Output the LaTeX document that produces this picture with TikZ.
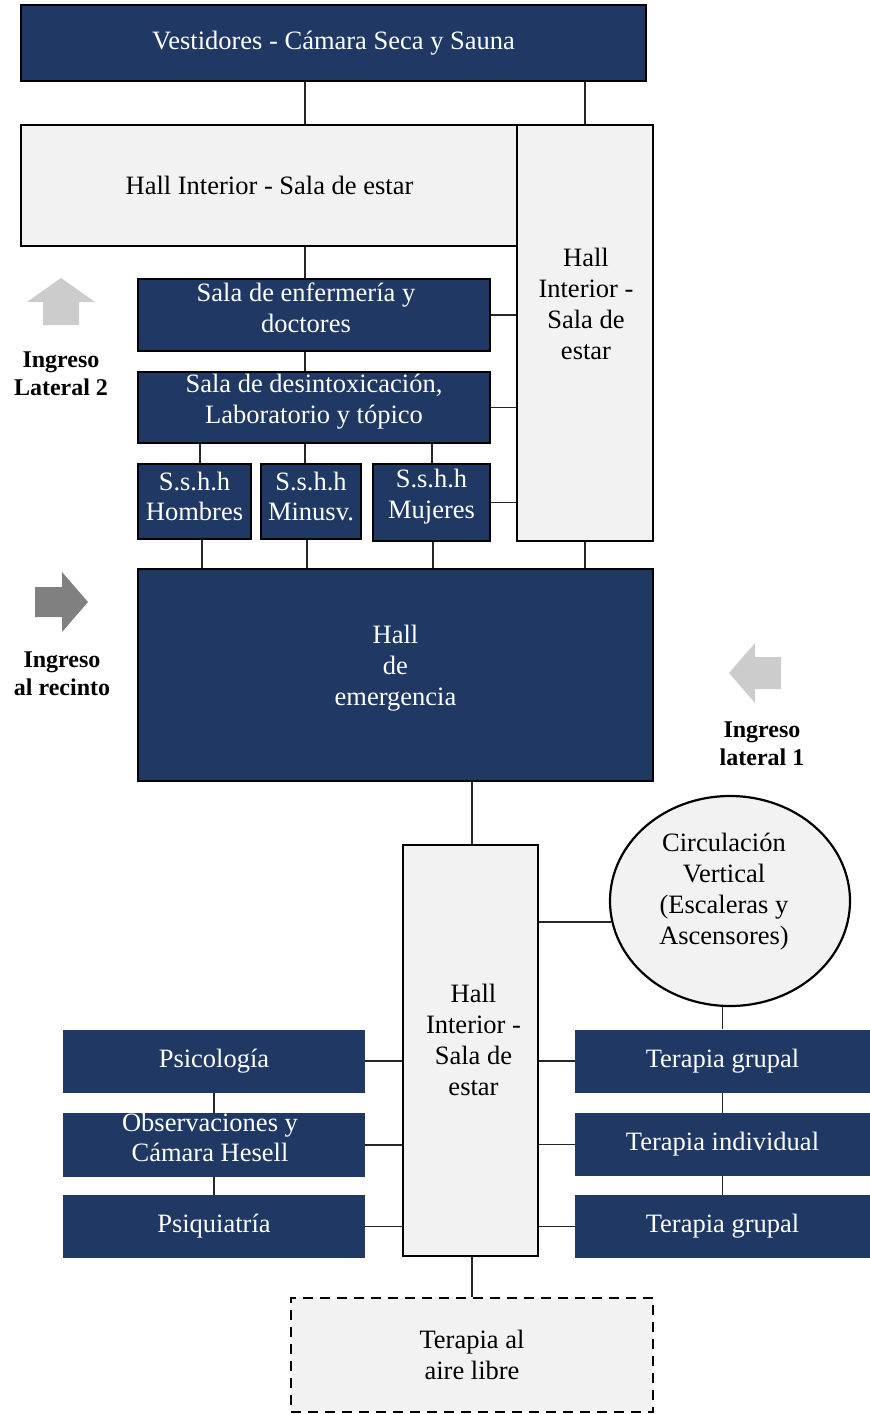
\documentclass[tikz,border=0pt]{standalone}
\usepackage{fontspec}
\setmainfont{Liberation Serif}
\usepackage{xcolor}
\usetikzlibrary{shapes.geometric,positioning}
\definecolor{navy}{HTML}{203864}
\definecolor{paleg}{HTML}{F2F2F2}
\definecolor{arrowl}{HTML}{CCCCCC}
\definecolor{arrowd}{HTML}{808080}

\begin{document}
\begin{tikzpicture}[x=1pt,y=-1pt,
  txt/.style={align=center,inner sep=0pt,font=\fontsize{26.5}{30.8}\selectfont},
  navyroom/.style={txt,fill=navy,text=white,draw=black,line width=2.2pt},
  flatroom/.style={txt,fill=navy,text=white},
  hallroom/.style={txt,fill=paleg,draw=black,line width=2.2pt},
  link/.style={draw=black!85,line width=1.2pt},
  entry/.style={align=center,inner sep=0pt,font=\fontsize{24}{27.6}\selectfont\bfseries}]
  \useasboundingbox (0,0) rectangle (870,1414);

  % upper block
  \node[navyroom,minimum width=625pt,minimum height=76pt] (vest) at (333.5,43)
    {Vestidores - Cámara Seca y Sauna};
  \node[hallroom,minimum width=497pt,minimum height=121pt] (hallA) at (269.5,185.5)
    {Hall Interior - Sala de estar};
  \node[hallroom,minimum width=136pt,minimum height=416pt] (hallB) at (585,333) {};
  \node[txt] (hallB-t) at (hallB.center) [xshift=1pt,yshift=29pt]
    {Hall\\Interior -\\Sala de\\estar};

  \node[navyroom,minimum width=352pt,minimum height=72pt] (enf) at (314,315) {};
  \node[txt,text=white] (enf-t) at (enf.center) [xshift=-8pt,yshift=7pt]
    {Sala de enfermería y\\doctores};
  \node[navyroom,minimum width=352pt,minimum height=71pt] (desi) at (314,407.5) {};
  \node[txt,text=white] (desi-t) at (desi.center) [yshift=6pt]
    {Sala de desintoxicación,\\Laboratorio y tópico};

  \node[navyroom,minimum width=113pt,minimum height=75pt] (hom) at (194.5,501.5) {};
  \node[txt,text=white] (hom-t) at (hom.center) [yshift=5pt] {S.s.h.h\\Hombres};
  \node[navyroom,minimum width=100pt,minimum height=75pt] (minu) at (311,501.5) {};
  \node[txt,text=white] (minu-t) at (minu.center) [yshift=5pt] {S.s.h.h\\Minusv.};
  \node[navyroom,minimum width=117pt,minimum height=77pt] (muj) at (431.5,502.5) {};
  \node[txt,text=white] (muj-t) at (muj.center) [yshift=6pt] {S.s.h.h\\Mujeres};

  \node[navyroom,minimum width=515pt,minimum height=212pt] (emer) at (395.5,675) {};
  \node[txt,text=white] (emer-t) at (emer.center) [yshift=7pt] {Hall\\de\\emergencia};

  % lower block
  \node[hallroom,minimum width=135pt,minimum height=411pt] (hallC) at (470.5,1050.5) {};
  \node[txt] (hallC-t) at (hallC.center) [xshift=3pt,yshift=10.5pt]
    {Hall\\Interior -\\Sala de\\estar};
  \node[hallroom,ellipse,minimum width=240pt,minimum height=210pt] (circ) at (730,901) {};
  \node[txt] (circ-t) at (circ.center) [xshift=-6pt,yshift=9.5pt]
    {Circulación\\Vertical\\(Escaleras y\\Ascensores)};

  \node[flatroom,minimum width=302pt,minimum height=63pt] (psi) at (214,1061) {Psicología};
  \node[flatroom,minimum width=302pt,minimum height=64pt] (obs) at (214,1145) {};
  \node[txt,text=white] (obs-t) at (obs.center) [xshift=-4pt,yshift=7.5pt]
    {Observaciones y\\Cámara Hesell};
  \node[flatroom,minimum width=302pt,minimum height=63pt] (psq) at (214,1226.5) {Psiquiatría};

  \node[flatroom,minimum width=295pt,minimum height=63pt] (tg1) at (722.5,1061) {Terapia grupal};
  \node[flatroom,minimum width=295pt,minimum height=63pt] (tind) at (722.5,1144.5) {Terapia individual};
  \node[flatroom,minimum width=295pt,minimum height=63pt] (tg2) at (722.5,1226.5) {Terapia grupal};

  \node[txt,fill=paleg,draw=black,line width=2.4pt,dash pattern=on 10pt off 7pt,
    minimum width=362pt,minimum height=114pt] (aire) at (472,1355)
    {Terapia al\\aire libre};

  % connectors
  \draw[link] (vest.south -| 305,0) -- (hallA.north -| 305,0);
  \draw[link] (vest.south -| hallB.north) -- (hallB.north);
  \draw[link] (hallA.south -| 305,0) -- (enf.north -| 305,0);
  \draw[link] (enf.south -| 305,0) -- (desi.north -| 305,0);
  \draw[link] (enf.east) -- (enf.east -| hallB.west);
  \draw[link] (desi.east) -- (desi.east -| hallB.west);
  \draw[link] (muj.east) -- (muj.east -| hallB.west);
  \draw[link] (desi.south -| 200,0) -- (hom.north -| 200,0);
  \draw[link] (desi.south -| 305,0) -- (minu.north -| 305,0);
  \draw[link] (desi.south -| 432,0) -- (muj.north -| 432,0);
  \draw[link] (hom.south -| 202,0) -- (emer.north -| 202,0);
  \draw[link] (minu.south -| 307,0) -- (emer.north -| 307,0);
  \draw[link] (muj.south -| 433,0) -- (emer.north -| 433,0);
  \draw[link] (hallB.south) -- (hallB.south |- emer.north);
  \draw[link] (emer.south -| 472,0) -- (hallC.north -| 472,0);
  \draw[link] (circ.190) -- (circ.190 -| hallC.east);
  \draw[link] (tg1.north |- circ.south) -- (tg1.north);
  \draw[link] (tg1.south) -- (tind.north);
  \draw[link] (tind.south) -- (tg2.north);
  \draw[link] (tg1.west) -- (tg1.west -| hallC.east);
  \draw[link] (tind.west) -- (tind.west -| hallC.east);
  \draw[link] (tg2.west) -- (tg2.west -| hallC.east);
  \draw[link] (psi.east) -- (psi.east -| hallC.west);
  \draw[link] (obs.east) -- (obs.east -| hallC.west);
  \draw[link] (psq.east) -- (psq.east -| hallC.west);
  \draw[link] (psi.south) -- (obs.north);
  \draw[link] (obs.south) -- (psq.north);
  \draw[link] (hallC.south -| aire.north) -- (aire.north);

  % entrances
  \fill[arrowl] (61,278) -- (95,302) -- (79,302) -- (79,325) -- (43,325)
    -- (43,302) -- (27,302) -- cycle;
  \node[entry] (lat2) at (61,374) {Ingreso\\Lateral 2};
  \fill[arrowd] (35,587) -- (62,587) -- (62,572) -- (88,602) -- (62,632)
    -- (62,617) -- (35,617) -- cycle;
  \node[entry] (recinto) at (62,674) {Ingreso\\al recinto};
  \fill[arrowl] (729,673) -- (755,643) -- (755,657) -- (781,657) -- (781,689)
    -- (755,689) -- (755,703) -- cycle;
  \node[entry] (lat1) at (762,744) {Ingreso\\lateral 1};
\end{tikzpicture}
\end{document}
